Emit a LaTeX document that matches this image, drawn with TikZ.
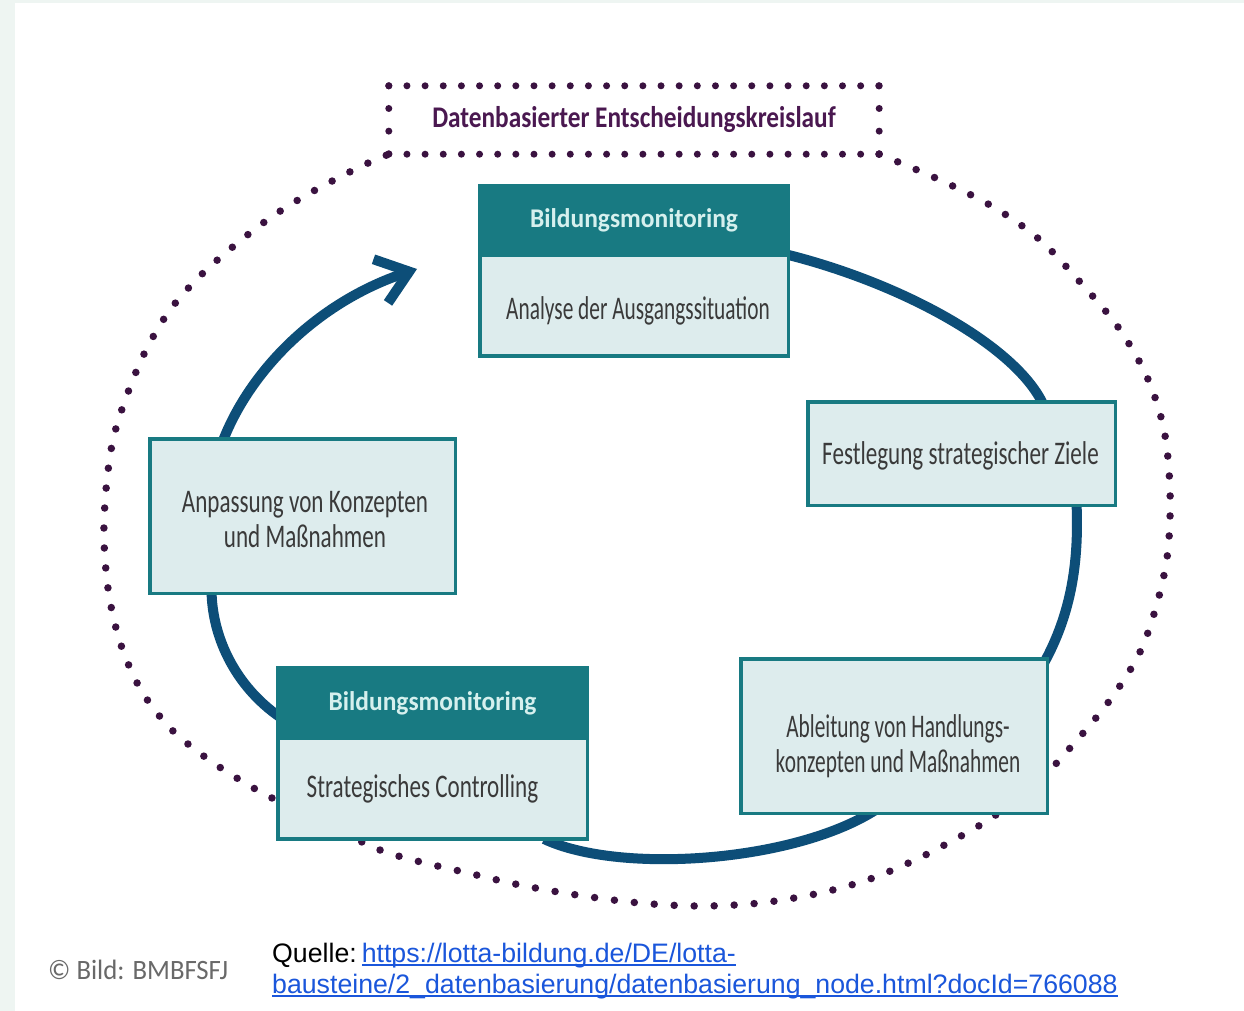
\documentclass[tikz,border=0pt]{standalone}
\usepackage{fontspec}
\setmainfont{Carlito}
\newfontfamily\bodyfont[FakeStretch=0.647]{Carlito}
\newfontfamily\bodyfontw[FakeStretch=0.70]{Carlito}
\newfontfamily\headfont[FakeStretch=0.944]{Carlito}
\newfontfamily\titlefont[FakeStretch=0.843]{Carlito}
\newfontfamily\bildfont[FakeStretch=0.955]{Carlito}
\newfontfamily\capfont{Liberation Sans}
\usetikzlibrary{arrows.meta,calc}
\pgfdeclarelayer{bg}
\pgfsetlayers{bg,main}
\definecolor{teal1}{RGB}{24,122,130}
\definecolor{lightf}{RGB}{221,236,237}
\definecolor{headtxt}{RGB}{214,240,238}
\definecolor{bodytxt}{RGB}{58,58,58}
\definecolor{conn}{RGB}{13,78,120}
\definecolor{dotc}{RGB}{58,18,64}
\definecolor{titlec}{RGB}{74,24,80}
\definecolor{pale}{RGB}{238,245,242}
\definecolor{linkc}{RGB}{26,86,219}
\definecolor{bildc}{RGB}{105,105,105}
\newcommand\myul[1]{\setbox0\hbox{#1}\rlap{\rule[-3.5pt]{\wd0}{1.8pt}}\box0}
\tikzset{
  boxbase/.style={draw=teal1, line width=3.5pt, inner sep=0pt, align=center},
  headbox/.style={boxbase, fill=teal1, text=headtxt, font=\headfont\bfseries\fontsize{27pt}{32pt}\selectfont},
  bodybox/.style={boxbase, fill=lightf, text=bodytxt},
  bodytext/.style={inner sep=0pt, align=center, text=bodytxt, font=\bodyfont\fontsize{33pt}{35pt}\selectfont},
  bodytextw/.style={inner sep=0pt, align=center, text=bodytxt, font=\bodyfontw\fontsize{33pt}{35pt}\selectfont},
  titlebox/.style={inner sep=0pt, minimum width=490pt, minimum height=68pt, text=titlec, font=\titlefont\bfseries\fontsize{30pt}{34pt}\selectfont},
  dotline/.style={draw=dotc, line width=7.5pt, line cap=round, dash pattern=on 0pt off 20pt},
  dotH/.style={draw=dotc, line width=7pt, line cap=round, dash pattern=on 0pt off 18.148pt},
  dotV/.style={draw=dotc, line width=7pt, line cap=round, dash pattern=on 0pt off 22.667pt},
  conline/.style={draw=conn, line width=10pt},
  captext/.style={anchor=base west, inner sep=0pt, font=\capfont\fontsize{26.7pt}{32pt}\selectfont}
}
\begin{document}
\begin{tikzpicture}[x=1pt,y=-1pt]
\useasboundingbox (0,0) rectangle (1244,1011);
% nodes
\node[titlebox] (title) at (634,120) {Datenbasierter Entscheidungskreislauf};
\node[headbox, minimum width=308.5pt, minimum height=69.5pt] (mon1h) at (634,220.5) {Bildungsmonitoring};
\node[bodybox, minimum width=308.5pt, minimum height=101pt] (mon1b) at (634,305.6) {};
\node[bodytext] (mon1bT) at ($(mon1b.center)+(4,5)$) {Analyse der Ausgangssituation};
\node[bodybox, minimum width=307.5pt, minimum height=103.5pt] (festl) at (961.5,453.5) {};
\node[bodytextw] (festlT) at ($(festl.center)+(-1,2)$) {Festlegung strategischer Ziele};
\node[bodybox, minimum width=306.5pt, minimum height=154.5pt] (ableit) at (894,736) {};
\node[bodytext] (ableitT) at ($(ableit.center)+(4,10)$) {Ableitung von Handlungs-\\konzepten und Maßnahmen};
\node[headbox, minimum width=309.5pt, minimum height=70.25pt] (mon2h) at (432.5,702.9) {Bildungsmonitoring};
\node[bodybox, minimum width=309.5pt, minimum height=101.25pt] (mon2b) at (432.5,788.6) {};
\node[bodytextw] (mon2bT) at ($(mon2b.center)+(-10,0)$) {Strategisches Controlling};
\node[bodybox, minimum width=305.5pt, minimum height=154.5pt] (anpass) at (302.5,516) {};
\node[bodytextw] (anpassT) at ($(anpass.center)+(2.5,4)$) {Anpassung von Konzepten\\und Maßnahmen};
\coordinate (arrowtip) at (417,269);
% caption
\node[anchor=base west, inner sep=0pt, text=bildc, font=\bildfont\fontsize{28pt}{30pt}\selectfont] (bild) at (48,979) {© Bild: BMBFSFJ};
\node[captext] (q1) at (272,962) {Quelle:\hspace{5pt}\textcolor{linkc}{\myul{https://lotta-bildung.de/DE/lotta-}}};
\node[captext] (q2) at (272,993) {\textcolor{linkc}{\myul{bausteine/2\_datenbasierung/datenbasierung\_node.html?docId=766088}}};
\begin{pgfonlayer}{bg}
\fill[pale] (0,0) rectangle (1244,1011);
\fill[white] (15,3) rectangle (1244,1011);
% title dotted box
\draw[dotH] (title.north west) -- (title.north east);
\draw[dotH] (title.south west) -- (title.south east);
\draw[dotV] (title.north west) -- (title.south west);
\draw[dotV] (title.north east) -- (title.south east);
% outer dotted loop
\draw[dotline] plot[smooth, tension=0.55] coordinates {
 (title.south east) (940,180) (995,208) (1040,240) (1080,282) (1118,327)
 (1147,377) (1164,430) (1170,490) (1168,550) (1158,600) (1140,652)
 (1110,700) (1070,748) (1030,790) (985,822) (950,842) (915,860)
 (870,879) (820,893) (760,903) (700,906) (640,903) (577,895)
 (520,885) (468,873) (413,860) (375,848) (322,822) (272,798)
 (240,780) (205,757) (170,728) (141,690) (121,645) (109,595)
 (104,540) (106,490) (113,440) (127,395) (146,350) (170,310)
 (200,276) (235,245) (270,218) (303,197) (336,179) (366,164)
 (title.south west)};
% cycle connectors
\draw[conline] ($(mon1b.north east)+(-8,0)$) .. controls (900,282) and (1015,345) .. ($(festl.north)+(81.5,4)$);
\draw[conline] ($(festl.south)+(115,-4)$) .. controls (1079,560) and (1072,612) .. ($(ableit.north east)+(-5,6)$);
\draw[conline] ($(ableit.south)+(-14,-8)$) .. controls (800,862) and (620,875) .. ($(mon2b.south east)+(-45,-2)$);
\draw[conline] ($(anpass.south)+(-91,-5)$) .. controls (212,640) and (238,690) .. ($(mon2h.south west)+(8,-20)$);
\draw[conline, -{Straight Barb[length=30pt,width=46pt]}] ($(anpass.north)+(-80,5)$) .. controls (250,370) and (318,302) .. (arrowtip);
\end{pgfonlayer}
\end{tikzpicture}
\end{document}
